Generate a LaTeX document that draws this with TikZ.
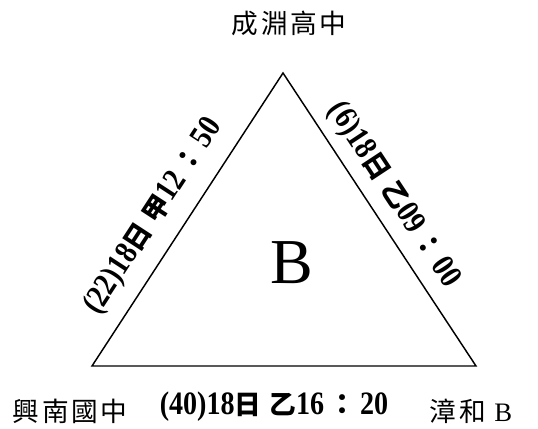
\documentclass[tikz,border=0pt]{standalone}
\usepackage{fontspec}
\setmainfont{Liberation Serif}
\newfontfamily\cjk{Noto Sans CJK TC}
\newfontfamily\cjkw[LetterSpace=10]{Noto Sans CJK TC}
\newfontfamily\numf[FakeStretch=0.86]{Liberation Serif}
\newcommand{\cj}[1]{{\cjk\fontsize{20}{24}\selectfont #1}}
\newcommand{\colo}{\hspace{3pt}{\cjk\fontsize{21}{24}\selectfont ：}\hspace{3pt}}
\begin{document}
\begin{tikzpicture}[x=0.75pt,y=-0.75pt,
  place/.style={inner sep=0pt,font=\cjkw\fontsize{20}{24}\selectfont},
  edgelbl/.style={inner sep=0pt,font=\numf\bfseries\fontsize{24.5}{28}\selectfont},
  tri/.style={line width=1.1pt,line join=miter}]
\useasboundingbox (0,0) rectangle (538,428);
\coordinate (T) at (283,73);
\coordinate (L) at (92,366);
\coordinate (R) at (476,366);
\draw[tri] (T) -- (L) -- (R) -- cycle;
\node[place] (top) at (289,23) {成淵高中};
\node[place] (bl) at (70,411) {興南國中};
\node[place] (br) at (471,411) {漳和 {\rmfamily B}};
\node[inner sep=0pt,font=\fontsize{48}{56}\selectfont] (ctr) at (292,263) {B};
\node[edgelbl,rotate=56.9] (left) at (153.5,216.5) {(22)18\cj{日\hspace{5pt}甲}12\colo 50};
\node[edgelbl,rotate=-56.6] (right) at (393.5,195) {(6)18\cj{日\hspace{6pt}乙}09\colo 00};
\node[edgelbl] (bottom) at (274,407) {(40)18\cj{日\hspace{6pt}乙}16\colo 20};
\end{tikzpicture}
\end{document}
